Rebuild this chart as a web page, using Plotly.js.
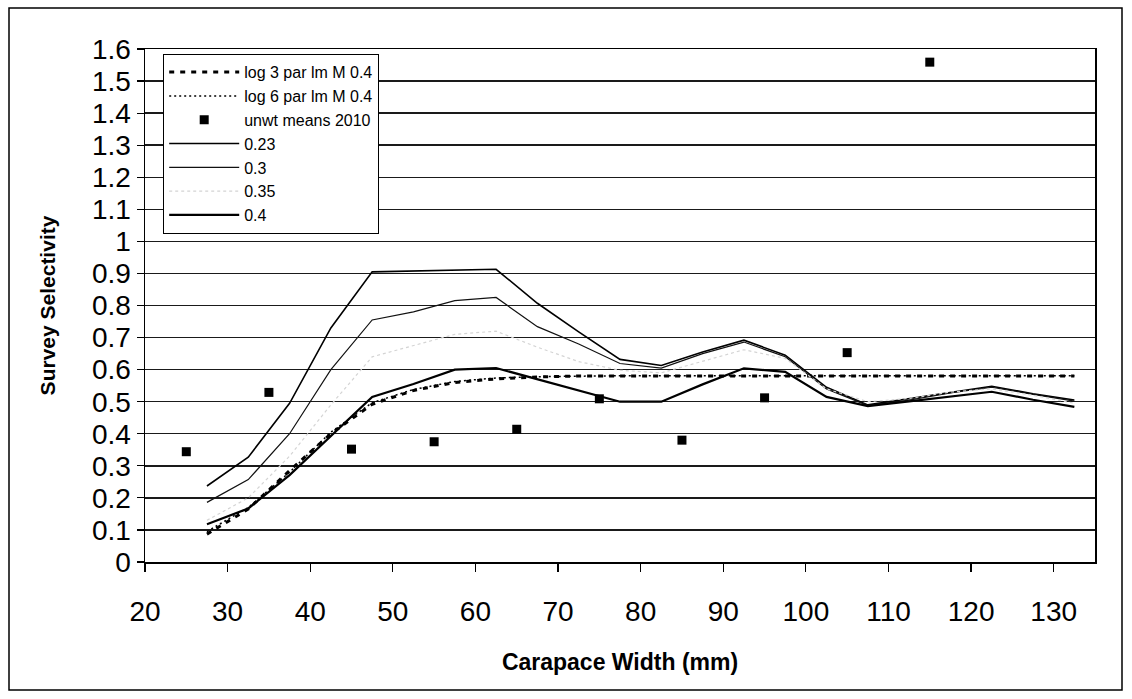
<!DOCTYPE html>
<html>
<head>
<meta charset="utf-8">
<script src="https://cdn.plot.ly/plotly-3.0.1.min.js"></script>
<style>
  html, body { margin: 0; padding: 0; background: #fff; }
  #chart { width: 1132px; height: 699px; }
</style>
</head>
<body>
<div id="chart"></div>
<script>
// Carapace width bin midpoints (mm)
const widthBins = [27.5, 32.5, 37.5, 42.5, 47.5, 52.5, 57.5, 62.5, 67.5, 72.5, 77.5,
                   82.5, 87.5, 92.5, 97.5, 102.5, 107.5, 112.5, 117.5, 122.5, 127.5, 132.5];

// Logistic fits, M = 0.4
const log3Par = [0.087, 0.165, 0.285, 0.40, 0.492, 0.535, 0.560, 0.571, 0.577, 0.580, 0.580,
                 0.580, 0.580, 0.580, 0.580, 0.580, 0.580, 0.580, 0.580, 0.580, 0.580, 0.580];
const log6Par = [0.095, 0.170, 0.280, 0.405, 0.497, 0.538, 0.563, 0.574, 0.578, 0.580, 0.581,
                 0.581, 0.581, 0.581, 0.581, 0.581, 0.581, 0.581, 0.581, 0.581, 0.581, 0.581];

// Selectivity by natural mortality value
const selM023 = [0.237, 0.327, 0.495, 0.730, 0.905, 0.908, 0.912, 0.913, 0.807, 0.718, 0.632,
                 0.613, 0.655, 0.692, 0.645, 0.545, 0.490, 0.509, 0.530, 0.548, 0.525, 0.505];
const selM030 = [0.186, 0.257, 0.400, 0.600, 0.755, 0.780, 0.815, 0.825, 0.734, 0.680, 0.619,
                 0.605, 0.650, 0.686, 0.640, 0.540, 0.488, 0.505, 0.527, 0.545, 0.523, 0.502];
const selM035 = [0.130, 0.200, 0.330, 0.490, 0.640, 0.675, 0.710, 0.720, 0.670, 0.625, 0.598,
                 0.590, 0.625, 0.662, 0.635, 0.540, 0.500, 0.510, 0.530, 0.540, 0.520, 0.495];
const selM040 = [0.118, 0.167, 0.271, 0.393, 0.515, 0.555, 0.600, 0.605, 0.570, 0.535, 0.500,
                 0.500, 0.554, 0.604, 0.593, 0.515, 0.486, 0.501, 0.517, 0.531, 0.506, 0.484];

// Unweighted survey means, 2010
const meanWidths = [25, 35, 45, 55, 65, 75, 85, 95, 105, 115];
const meanValues = [0.344, 0.529, 0.352, 0.375, 0.414, 0.509, 0.380, 0.512, 0.653, 1.559];

// Axis ticks
const yTicks = [0, 0.1, 0.2, 0.3, 0.4, 0.5, 0.6, 0.7, 0.8, 0.9, 1, 1.1, 1.2, 1.3, 1.4, 1.5, 1.6];
const yTickText = ['0', '0.1', '0.2', '0.3', '0.4', '0.5', '0.6', '0.7', '0.8', '0.9', '1',
                   '1.1', '1.2', '1.3', '1.4', '1.5', '1.6'];
const xTicks = [20, 30, 40, 50, 60, 70, 80, 90, 100, 110, 120, 130];

const FONT = 'Liberation Sans, Arial, Helvetica, sans-serif';

const traces = [
  { x: widthBins, y: log3Par, name: 'log 3 par lm M 0.4', mode: 'lines',
    line: { color: '#000', width: 3, dash: '5px,6px' } },
  { x: widthBins, y: log6Par, name: 'log 6 par lm M 0.4', mode: 'lines',
    line: { color: '#000', width: 1.5, dash: '2px,3px' } },
  { x: meanWidths, y: meanValues, name: 'unwt means 2010', mode: 'markers',
    marker: { symbol: 'square', size: 9, color: '#000' } },
  { x: widthBins, y: selM023, name: '0.23', mode: 'lines',
    line: { color: '#000', width: 1.6 } },
  { x: widthBins, y: selM030, name: '0.3', mode: 'lines',
    line: { color: '#111', width: 1.2 } },
  { x: widthBins, y: selM035, name: '0.35', mode: 'lines',
    line: { color: '#d4d4d4', width: 1.2, dash: 'dot' } },
  { x: widthBins, y: selM040, name: '0.4', mode: 'lines',
    line: { color: '#000', width: 2.2 } }
];

// Plot area in pixels: left 145, right 1095, top 49, bottom 562
const L = 145, R = 37, T = 49, B = 137;
const pw = 1132 - L - R, ph = 699 - T - B;

const layout = {
  width: 1132, height: 699,
  margin: { l: L, r: R, t: T, b: B, pad: 0 },
  paper_bgcolor: '#fff', plot_bgcolor: '#fff',
  font: { family: FONT, color: '#000' },
  showlegend: true,
  legend: {
    x: (163 - L) / pw, y: (562 - 54) / ph, xanchor: 'left', yanchor: 'top',
    bgcolor: '#fff', bordercolor: '#000', borderwidth: 1.2,
    font: { family: FONT, size: 16, color: '#000' },
    itemwidth: 70, tracegroupgap: 0, traceorder: 'normal'
  },
  xaxis: {
    range: [20, 135], tickmode: 'array', tickvals: xTicks,
    ticks: 'outside', ticklen: 8, tickwidth: 1.2, tickcolor: '#000',
    ticklabelstandoff: 16,
    showgrid: false, zeroline: false,
    showline: true, linecolor: '#000', linewidth: 1.5, mirror: true,
    tickfont: { family: FONT, size: 28, color: '#000' },
    title: { text: '<b>Carapace Width (mm)</b>', font: { family: FONT, size: 23, color: '#000' }, standoff: 28 }
  },
  yaxis: {
    range: [0, 1.6], tickmode: 'array', tickvals: yTicks, ticktext: yTickText,
    ticks: 'outside', ticklen: 7, tickwidth: 1.2, tickcolor: '#000',
    showgrid: true, gridcolor: '#1a1a1a', gridwidth: 1.4, zeroline: false,
    showline: true, linecolor: '#000', linewidth: 1.5, mirror: true,
    tickfont: { family: FONT, size: 28, color: '#000' },
    title: { text: '<b>Survey Selectivity</b>', font: { family: FONT, size: 21, color: '#000' }, standoff: 30 }
  },
  shapes: [
    // outer chart frame
    { type: 'rect', xref: 'paper', yref: 'paper',
      x0: (9 - L) / pw, x1: (1122 - L) / pw, y0: (562 - 690) / ph, y1: (562 - 8) / ph,
      line: { color: '#000', width: 1.5 }, fillcolor: 'rgba(0,0,0,0)' }
  ]
};

Plotly.newPlot('chart', traces, layout, { staticPlot: true, displayModeBar: false });
</script>
</body>
</html>
